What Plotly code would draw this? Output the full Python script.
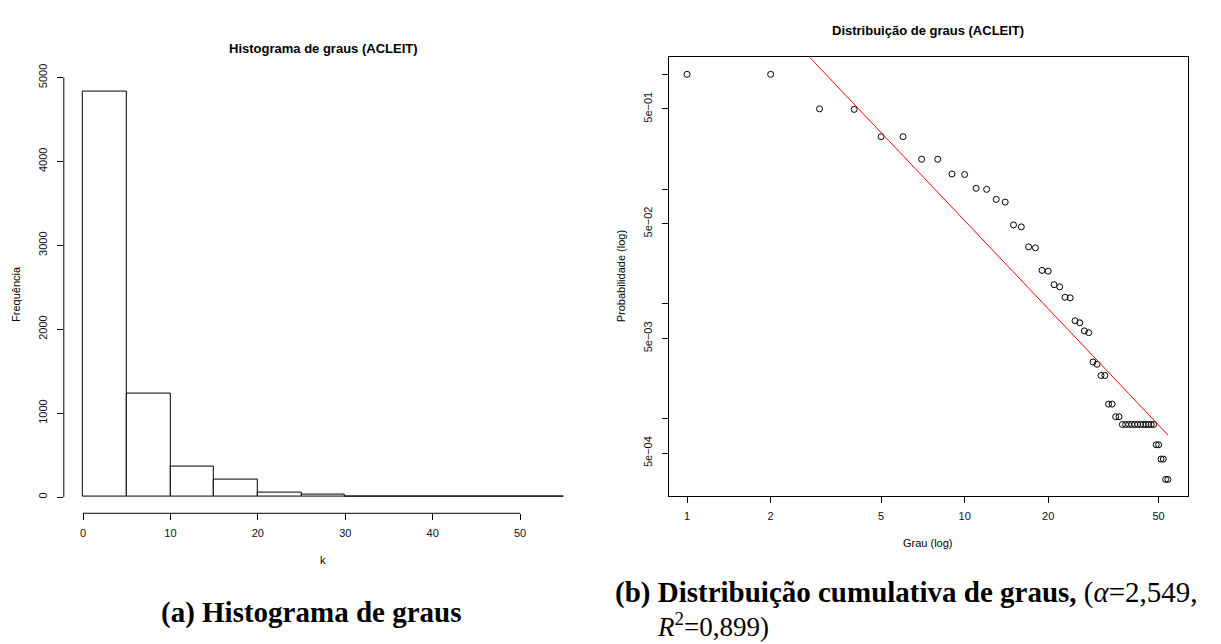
import plotly.graph_objects as go

W, H = 1221, 644

# ---------------- data ----------------
# (a) histogram of degrees: bins of width 5 from 0 to 55
hist_bin_edges = [0, 5, 10, 15, 20, 25, 30, 35, 40, 45, 50, 55]
hist_counts = [4830, 1228, 366, 214, 50, 30, 10, 3, 1, 1, 1]
hist_xticks = [0, 10, 20, 30, 40, 50]
hist_yticks = [0, 1000, 2000, 3000, 4000, 5000]

# (b) cumulative degree distribution (log-log)
degree = list(range(1, 55))
cum_prob = [
    1.0, 1.0, 0.50, 0.495, 0.286, 0.286, 0.182, 0.182, 0.1355, 0.134,
    0.1016, 0.0995, 0.0813, 0.0771, 0.0488, 0.0469, 0.0314, 0.0308, 0.0196, 0.0193,
    0.0147, 0.0141, 0.01143, 0.0113, 0.00713, 0.00685, 0.00582, 0.00562, 0.00312, 0.00298,
    0.00238, 0.00238, 0.00134, 0.00134, 0.00104, 0.00104, 0.000891, 0.000891, 0.000891, 0.000891,
    0.000891, 0.000891, 0.000891, 0.000891, 0.000891, 0.000891, 0.000891, 0.000891, 0.000593, 0.000593,
    0.000445, 0.000445, 0.000296, 0.000296,
]
fit_k = [1, 54]
fit_p = [18.8, 0.000723]
log_xticks = [1, 2, 5, 10, 20, 50]
log_yticks = [0.5, 0.05, 0.005, 0.0005]
log_yticktext = ["5e\u221201", "5e\u221202", "5e\u221203", "5e\u221204"]
log_yminor = [1.0, 0.1, 0.01, 0.001]

# ---------------- helpers ----------------
def px(x):
    return x / W

def py(y):
    return 1 - y / H

SANS = "Liberation Sans, Arial, Helvetica, sans-serif"
SERIF = "Liberation Serif, Times New Roman, serif"

bar_x = [(a + b) / 2 for a, b in zip(hist_bin_edges[:-1], hist_bin_edges[1:])]
bar_w = [b - a for a, b in zip(hist_bin_edges[:-1], hist_bin_edges[1:])]

fig = go.Figure()

fig.add_trace(go.Bar(
    x=bar_x, y=hist_counts, width=bar_w,
    marker=dict(color="white", line=dict(color="black", width=1)),
    xaxis="x", yaxis="y", showlegend=False, hoverinfo="x+y",
))

fig.add_trace(go.Scatter(
    x=degree, y=cum_prob, mode="markers",
    marker=dict(symbol="circle-open", size=6, color="black", line=dict(width=1, color="black")),
    xaxis="x2", yaxis="y2", showlegend=False,
))

fig.add_trace(go.Scatter(
    x=fit_k, y=fit_p, mode="lines",
    line=dict(color="red", width=1),
    xaxis="x2", yaxis="y2", showlegend=False, cliponaxis=True,
))

tickfont = dict(family=SANS, size=11, color="#111")

fig.update_layout(
    width=W, height=H,
    margin=dict(l=0, r=0, t=0, b=0),
    paper_bgcolor="white", plot_bgcolor="white",
    bargap=0,
    xaxis=dict(
        domain=[px(63.8), px(583.0)], range=[-2.2, 57.2], anchor="y",
        tickmode="array", tickvals=hist_xticks,
        ticks="outside", ticklen=6, tickcolor="black", tickwidth=1,
        showline=False, showgrid=False, zeroline=False,
        tickfont=tickfont, ticklabelstandoff=4,
    ),
    yaxis=dict(
        domain=[py(510.8), py(64.8)], range=[-193.2, 5023.2], anchor="x",
        tickmode="array", tickvals=hist_yticks, tickangle=-90,
        ticks="outside", ticklen=6, tickcolor="black", tickwidth=1,
        showline=False, showgrid=False, zeroline=False,
        tickfont=tickfont, ticklabelstandoff=5,
    ),
    xaxis2=dict(
        type="log", domain=[px(668.5), px(1187.5)], range=[-0.067, 1.803], anchor="y2",
        tickmode="array", tickvals=log_xticks, ticktext=[str(v) for v in log_xticks],
        ticks="outside", ticklen=6, tickcolor="black", tickwidth=1,
        showline=True, mirror=True, linecolor="black", linewidth=1,
        showgrid=False, zeroline=False,
        tickfont=tickfont, ticklabelstandoff=4,
    ),
    yaxis2=dict(
        type="log", domain=[py(492.7), py(46.3)], range=[-3.669, 0.147], anchor="x2",
        tickmode="array", tickvals=log_yticks, ticktext=log_yticktext, tickangle=-90,
        ticks="outside", ticklen=6, tickcolor="black", tickwidth=1,
        minor=dict(tickmode="array", tickvals=log_yminor, ticks="outside", ticklen=6,
                   tickcolor="black", tickwidth=1, showgrid=False),
        showline=True, mirror=True, linecolor="black", linewidth=1,
        showgrid=False, zeroline=False,
        tickfont=tickfont, ticklabelstandoff=5,
    ),
    shapes=[
        dict(type="line", xref="x", yref="y domain", x0=hist_xticks[0], x1=hist_xticks[-1], y0=0, y1=0,
             line=dict(color="black", width=1)),
        dict(type="line", xref="x domain", yref="y", x0=0, x1=0, y0=hist_yticks[0], y1=hist_yticks[-1],
             line=dict(color="black", width=1)),
    ],
)

ann = [
    dict(text="<b>Histograma de graus (ACLEIT)</b>", x=px(323.4), y=py(37),
         font=dict(family=SANS, size=13, color="black")),
    dict(text="k", x=px(323.4), y=py(558), font=dict(family=SANS, size=11, color="black")),
    dict(text="Frequência", x=px(16.5), y=py(287.8), textangle=-90,
         font=dict(family=SANS, size=11, color="black")),
    dict(text="<b>Distribuição de graus (ACLEIT)</b>", x=px(928), y=py(19),
         font=dict(family=SANS, size=13, color="black")),
    dict(text="Grau (log)", x=px(928), y=py(541), font=dict(family=SANS, size=11, color="black")),
    dict(text="Probabilidade (log)", x=px(621.8), y=py(269.5), textangle=-90,
         font=dict(family=SANS, size=11, color="black")),
    dict(text="<b>(a) Histograma de graus</b>", x=px(310.5), y=py(612),
         font=dict(family=SERIF, size=29, color="black")),
    dict(text="<b>(b) Distribuição cumulativa de graus,</b> (<i>α</i>=2,549,", x=px(612.7), y=py(592),
         xanchor="left", font=dict(family=SERIF, size=29, color="black")),
    dict(text="<i>R</i><sup>2</sup>=0,899)", x=px(655), y=py(644), yanchor="bottom",
         yshift=0, xanchor="left", font=dict(family=SERIF, size=27, color="black")),
]
for a in ann:
    a.setdefault("xanchor", "center")
    a.setdefault("yanchor", "middle")
    a.update(xref="paper", yref="paper", showarrow=False)
    fig.add_annotation(**a)

fig.write_html("out.html", config={"displayModeBar": False},
               post_script="document.body.style.margin='0px';")
